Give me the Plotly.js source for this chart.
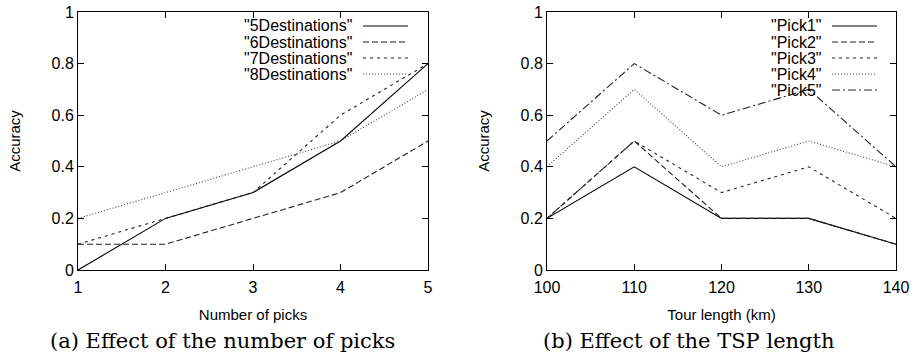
<!DOCTYPE html>
<html>
<head>
<meta charset="utf-8">
<script src="https://cdn.plot.ly/plotly-3.0.1.min.js"></script>
<style>html,body{margin:0;padding:0;background:#fff;}#chart{width:918px;height:358px;}</style>
</head>
<body>
<div id="chart"></div>
<script>
// ---- data ----
var picks = [1, 2, 3, 4, 5];
var dest5 = [0, 0.2, 0.3, 0.5, 0.8];
var dest6 = [0.1, 0.1, 0.2, 0.3, 0.5];
var dest7 = [0.1, 0.2, 0.3, 0.6, 0.8];
var dest8 = [0.2, 0.3, 0.4, 0.5, 0.7];
var destNames = ['"5Destinations"', '"6Destinations"', '"7Destinations"', '"8Destinations"'];

var tourLen = [100, 110, 120, 130, 140];
var pick1 = [0.2, 0.4, 0.2, 0.2, 0.1];
var pick2 = [0.2, 0.5, 0.2, 0.2, 0.1];
var pick3 = [0.2, 0.5, 0.3, 0.4, 0.2];
var pick4 = [0.4, 0.7, 0.4, 0.5, 0.4];
var pick5 = [0.5, 0.8, 0.6, 0.7, 0.4];
var pickNames = ['"Pick1"', '"Pick2"', '"Pick3"', '"Pick4"', '"Pick5"'];

var yTicks = [0, 0.2, 0.4, 0.6, 0.8, 1];
var captions = ['(a) Effect of the number of picks', '(b) Effect of the TSP length'];

// ---- styles ----
var dashes = ['solid', '6px,3px', '3px,4px', '1px,2px', '8px,3px,2px,3px'];
var lineColors = ['#000', '#222', '#222', '#444', '#222'];
var W = 918, H = 358;
var sans = 'Liberation Sans, Arial, Helvetica, sans-serif';
var serif = 'DejaVu Serif, Liberation Serif, serif';

var leftSeries = [dest5, dest6, dest7, dest8];
var rightSeries = [pick1, pick2, pick3, pick4, pick5];
var traces = [];
leftSeries.forEach(function (s, i) {
  traces.push({x: picks, y: s, xaxis: 'x', yaxis: 'y', mode: 'lines', name: destNames[i],
    line: {color: lineColors[i], width: 1.1, dash: dashes[i]}, showlegend: false});
});
rightSeries.forEach(function (s, i) {
  traces.push({x: tourLen, y: s, xaxis: 'x2', yaxis: 'y2', mode: 'lines', name: pickNames[i],
    line: {color: lineColors[i], width: 1.1, dash: dashes[i]}, showlegend: false});
});

function px(x) { return x / W; }
function py(y) { return 1 - y / H; }

var axBase = {
  showline: true, linecolor: '#000', linewidth: 1, mirror: 'ticks',
  ticks: 'inside', ticklen: 6, tickwidth: 1, tickcolor: '#000',
  showgrid: false, zeroline: false,
  tickfont: {family: sans, size: 16, color: '#000'}
};
function ax(extra) { return Object.assign({}, axBase, extra); }

var yDom = [py(270), py(12)];
var annotations = [], shapes = [];

// manual gnuplot-style legends (text right-aligned, sample line to the right)
function addLegend(names, textRight, lineX0, lineX1, rowY0, rowStep) {
  names.forEach(function (n, i) {
    var y = rowY0 + i * rowStep;
    annotations.push({xref: 'paper', yref: 'paper', x: px(textRight), y: py(y), xanchor: 'right', yanchor: 'middle',
      text: n, showarrow: false, font: {family: sans, size: 16, color: '#000'}});
    shapes.push({type: 'line', xref: 'paper', yref: 'paper', x0: px(lineX0), x1: px(lineX1), y0: py(y), y1: py(y),
      line: {color: lineColors[i], width: 1.1, dash: dashes[i]}});
  });
}
addLegend(destNames, 354, 363, 408, 26, 16);
addLegend(pickNames, 823, 832, 877, 26, 16);

// subfigure captions
annotations.push({xref: 'paper', yref: 'paper', x: px(222), y: py(341), xanchor: 'center', yanchor: 'middle',
  text: captions[0], showarrow: false, font: {family: serif, size: 21, color: '#000'}});
annotations.push({xref: 'paper', yref: 'paper', x: px(689), y: py(341), xanchor: 'center', yanchor: 'middle',
  text: captions[1], showarrow: false, font: {family: serif, size: 21, color: '#000'}});

var titleFont = {family: sans, size: 15, color: '#000'};
var layout = {
  width: W, height: H,
  margin: {l: 0, r: 0, t: 0, b: 0},
  paper_bgcolor: '#fff', plot_bgcolor: '#fff',
  showlegend: false,
  xaxis: ax({domain: [px(78), px(428)], range: [1, 5], tickvals: picks, anchor: 'y', ticklabelstandoff: 3,
    title: {text: 'Number of picks', font: titleFont, standoff: 14}}),
  yaxis: ax({domain: yDom, range: [0, 1], tickvals: yTicks, anchor: 'x',
    title: {text: 'Accuracy', font: titleFont, standoff: 27}}),
  xaxis2: ax({domain: [px(547), px(896)], range: [100, 140], tickvals: tourLen, anchor: 'y2', ticklabelstandoff: 3,
    title: {text: 'Tour length (km)', font: titleFont, standoff: 14}}),
  yaxis2: ax({domain: yDom, range: [0, 1], tickvals: yTicks, anchor: 'x2',
    title: {text: 'Accuracy', font: titleFont, standoff: 27}}),
  annotations: annotations,
  shapes: shapes
};

Plotly.newPlot('chart', traces, layout, {displayModeBar: false, staticPlot: true});
</script>
</body>
</html>
